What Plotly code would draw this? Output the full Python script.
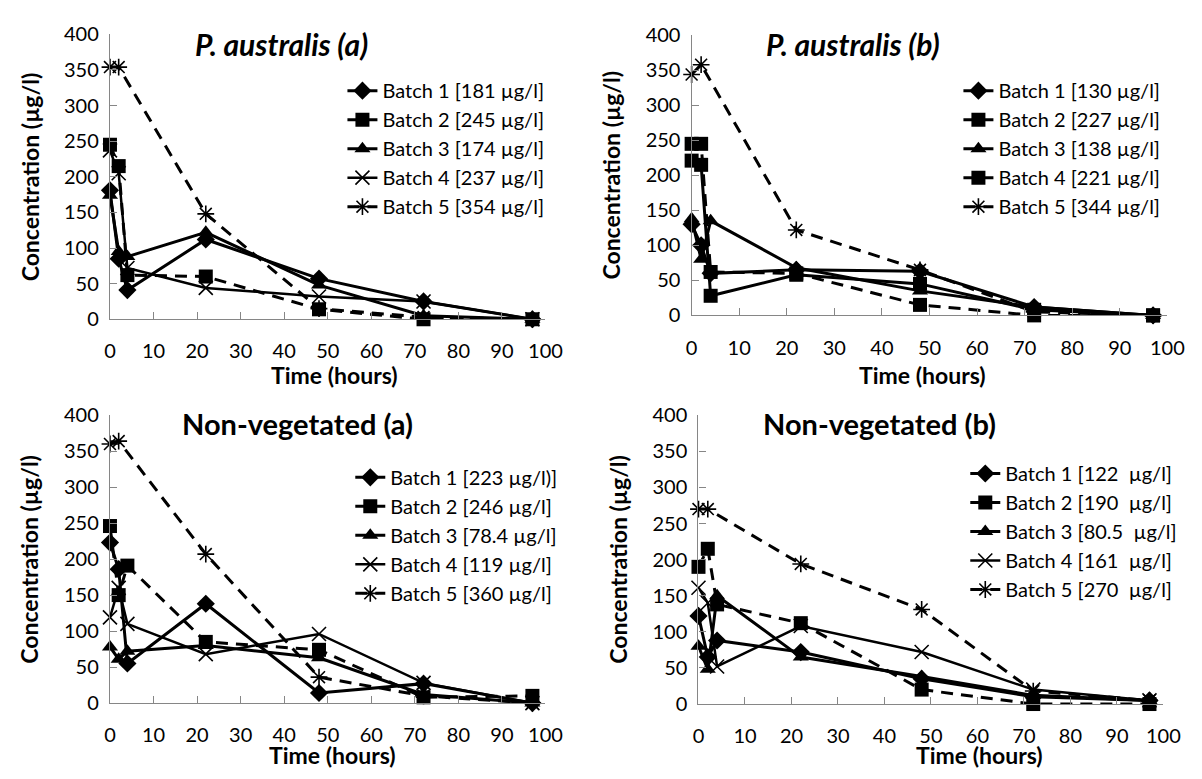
import plotly.graph_objects as go

W, H = 1202, 779

TIME = [0, 2, 4, 22, 48, 72, 97]

# ---------- Panel titles ----------
TITLES = ["P. australis (a)", "P. australis (b)", "Non-vegetated (a)", "Non-vegetated (b)"]

# ---------- Legend labels ----------
NAMES_PA_A = ["Batch 1 [181 µg/l]", "Batch 2 [245 µg/l]", "Batch 3 [174 µg/l]",
              "Batch 4 [237 µg/l]", "Batch 5 [354 µg/l]"]
NAMES_PA_B = ["Batch 1 [130 µg/l]", "Batch 2 [227 µg/l]", "Batch 3 [138 µg/l]",
              "Batch 4 [221 µg/l]", "Batch 5 [344 µg/l]"]
NAMES_NV_A = ["Batch 1 [223 µg/l)]", "Batch 2 [246 µg/l]", "Batch 3 [78.4 µg/l]",
              "Batch 4 [119 µg/l]", "Batch 5 [360 µg/l]"]
NAMES_NV_B = ["Batch 1 [122  µg/l]", "Batch 2 [190  µg/l]", "Batch 3 [80.5  µg/l]",
              "Batch 4 [161  µg/l]", "Batch 5 [270  µg/l]"]

# ---------- Concentrations (µg/l) at TIME ----------
PA_A_B1 = [181, 85, 41, 112, 57, 25, 0]
PA_A_B2 = [245, 215, 62, 60, 14, 0, 0]
PA_A_B3 = [174, 95, 88, 122, 48, 5, 0]
PA_A_B4 = [237, 205, 72, 44, 32, 25, 0]
PA_A_B5 = [354, 354, None, 148, 15, 3, 0]

PA_B_B1 = [130, 100, 60, 65, 63, 12, 0]
PA_B_B2 = [245, 245, 62, 60, 15, 0, 0]
PA_B_B3 = [138, 80, 135, 68, 35, 12, 0]
PA_B_B4 = [221, 215, 28, 58, 45, 8, 0]
PA_B_B5 = [344, 358, None, 122, 65, 5, 0]

NV_A_B1 = [223, 186, 55, 138, 14, 27, 0]
NV_A_B2 = [246, 150, 191, 85, 74, 8, 10]
NV_A_B3 = [78, 61, 72, 80, 63, 12, 0]
NV_A_B4 = [119, 160, 110, 68, 96, 28, 0]
NV_A_B5 = [360, 364, None, 207, 36, 10, 0]

NV_B_B1 = [122, 65, 88, 72, 35, 10, 5]
NV_B_B2 = [190, 215, 138, 112, 20, 0, 0]
NV_B_B3 = [80, 48, 150, 65, 38, 12, 5]
NV_B_B4 = [161, 140, 52, 108, 72, 20, 5]
NV_B_B5 = [270, 270, None, 194, 131, 18, 5]

X_TICKS = [0, 10, 20, 30, 40, 50, 60, 70, 80, 90, 100]
Y_TICKS = [0, 50, 100, 150, 200, 250, 300, 350, 400]

FONT = "Lato, 'Open Sans', sans-serif"
AXIS_GRAY = "#868686"
DASH = "12px,8px"

# styles: (symbol, dash, size, line width)
STY = {
    "diamond": ("diamond", "solid", 14, 3),
    "square_d": ("square", DASH, 14, 3),
    "square_s": ("square", "solid", 14, 3),
    "triangle": ("triangle-up", "solid", 14, 3),
    "x": ("x-thin-open", "solid", 14, 2.5),
    "star_d": ("asterisk-open", DASH, 14, 3),
}

panels = [
    dict(names=NAMES_PA_A, data=[PA_A_B1, PA_A_B2, PA_A_B3, PA_A_B4, PA_A_B5],
         styles=["diamond", "square_d", "triangle", "x", "star_d"],
         px=(106, 550), py=(316, 22), title=TITLES[0], italic=True,
         tpos=(281, 32), leg=(343, 60), xt=(335, 373)),
    dict(names=NAMES_PA_B, data=[PA_B_B1, PA_B_B2, PA_B_B3, PA_B_B4, PA_B_B5],
         styles=["diamond", "square_d", "triangle", "square_s", "star_d"],
         px=(699, 1184), py=(312, 23), title=TITLES[1], italic=True,
         tpos=(864, 32), leg=(971, 60), xt=(934, 373)),
    dict(names=NAMES_NV_A, data=[NV_A_B1, NV_A_B2, NV_A_B3, NV_A_B4, NV_A_B5],
         styles=["diamond", "square_d", "triangle", "x", "star_d"],
         px=(106, 550), py=(712, 415), title=TITLES[2], italic=False,
         tpos=(297, 424), leg=(351, 459), xt=(333, 766)),
    dict(names=NAMES_NV_B, data=[NV_B_B1, NV_B_B2, NV_B_B3, NV_B_B4, NV_B_B5],
         styles=["diamond", "square_d", "triangle", "x", "star_d"],
         px=(706, 1180), py=(713, 415), title=TITLES[3], italic=False,
         tpos=(891, 424), leg=(978, 455), xt=(993, 766)),
]

fig = go.Figure()
layout = dict(
    width=W, height=H, margin=dict(l=0, r=0, t=0, b=0),
    paper_bgcolor="white", plot_bgcolor="white",
    font=dict(family=FONT, color="black"),
    showlegend=True,
)
annotations = []

for i, p in enumerate(panels):
    k = "" if i == 0 else str(i + 1)
    xa, ya = "x" + k, "y" + k
    leg = "legend" + k
    for name, vals, sk in zip(p["names"], p["data"], p["styles"]):
        sym, dash, size, lw = STY[sk]
        mline = dict(width=1.6, color="black") if "open" in sym else dict(width=0)
        fig.add_trace(go.Scatter(
            x=TIME, y=vals, name=name, mode="lines+markers",
            connectgaps=True, cliponaxis=False,
            line=dict(color="black", width=lw, dash=dash),
            marker=dict(symbol=sym, size=size, color="black", line=mline),
            xaxis=xa, yaxis=ya, legend=leg,
        ))
    x0, x1 = p["px"]
    y0, y1 = p["py"]
    layout["xaxis" + k] = dict(
        domain=[x0 / W, x1 / W], range=[0, 100], anchor=ya,
        tickvals=X_TICKS, ticks="inside", ticklen=7, tickcolor=AXIS_GRAY,
        showline=True, linecolor=AXIS_GRAY, linewidth=1.3, showgrid=False,
        zeroline=False, tickfont=dict(size=20, family=FONT, color="black"),
        ticklabelstandoff=14,
    )
    layout["yaxis" + k] = dict(
        domain=[(H - y0) / H, (H - y1) / H], range=[0, 400], anchor=xa,
        tickvals=Y_TICKS, ticks="inside", ticklen=7, tickcolor=AXIS_GRAY,
        showline=True, linecolor=AXIS_GRAY, linewidth=1.3, showgrid=False,
        zeroline=False, tickfont=dict(size=20, family=FONT, color="black"),
        ticklabelstandoff=6,
    )
    lx, ly = p["leg"]
    layout[leg] = dict(
        x=lx / W, y=(H - ly) / H, xanchor="left", yanchor="top",
        xref="paper", yref="paper",
        bgcolor="rgba(0,0,0,0)", borderwidth=0,
        font=dict(size=20, family=FONT, color="black"),
        tracegroupgap=0,
    )
    t = p["title"]
    ttxt = f"<b><i>{t}</i></b>" if p["italic"] else f"<b>{t}</b>"
    tx, ty = p["tpos"]
    annotations.append(dict(
        text=ttxt, x=tx / W, y=(H - ty) / H, xref="paper", yref="paper",
        xanchor="center", yanchor="middle", showarrow=False,
        font=dict(size=30 if p["italic"] else 29, family=FONT, color="black"),
    ))
    # y-axis title
    ytx = 24 if x0 < 300 else x0 - 82
    annotations.append(dict(
        text="<b>Concentration (µg/l)</b>", x=ytx / W, y=(H - (y0 + y1) / 2) / H,
        xref="paper", yref="paper", xanchor="center", yanchor="middle",
        textangle=-90, showarrow=False,
        font=dict(size=23, family=FONT, color="black"),
    ))
    # x-axis title
    xtx, xty = p["xt"]
    annotations.append(dict(
        text="<b>Time (hours)</b>", x=xtx / W, y=(H - xty) / H,
        xref="paper", yref="paper", xanchor="center", yanchor="middle",
        showarrow=False, font=dict(size=23, family=FONT, color="black"),
    ))

layout["annotations"] = annotations
fig.update_layout(**layout)
fig.write_html("out.html")
